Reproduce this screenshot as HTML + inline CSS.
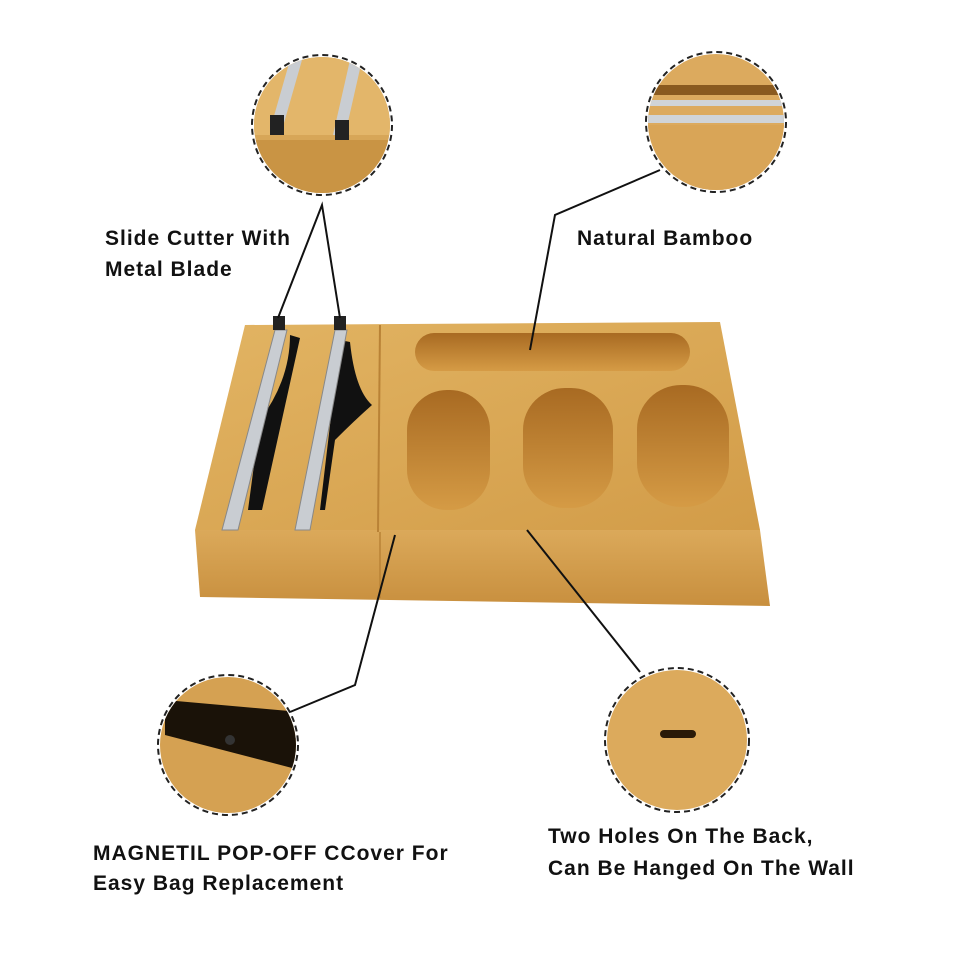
<!DOCTYPE html>
<html><head><meta charset="utf-8"><style>
html,body{margin:0;padding:0;background:#fff;}
svg{display:block}
text{font-family:"Liberation Sans",sans-serif;font-weight:bold;font-size:21px;letter-spacing:1px;fill:#111}
</style></head><body>
<svg width="960" height="960" viewBox="0 0 960 960" xmlns="http://www.w3.org/2000/svg">
<defs>
<linearGradient id="wood" x1="0" y1="0" x2="1" y2="1">
<stop offset="0" stop-color="#e2b463"/><stop offset="1" stop-color="#d29c48"/></linearGradient>
<linearGradient id="front" x1="0" y1="0" x2="0" y2="1">
<stop offset="0" stop-color="#dba95a"/><stop offset="1" stop-color="#c88f3e"/></linearGradient>
<linearGradient id="hole" x1="0" y1="0" x2="0" y2="1">
<stop offset="0" stop-color="#a86a22"/><stop offset="1" stop-color="#d59b45"/></linearGradient>
<clipPath id="c1"><circle cx="322" cy="125" r="68"/></clipPath>
<clipPath id="c2"><circle cx="716" cy="122" r="68"/></clipPath>
<clipPath id="c3"><circle cx="228" cy="745" r="68"/></clipPath>
<clipPath id="c4"><circle cx="677" cy="740" r="70"/></clipPath>
</defs>

<polygon points="195,530 760,530 770,606 200,597" fill="url(#front)"/>
<line x1="380" y1="532" x2="380" y2="598" stroke="#b98236" stroke-width="1.5"/>
<polygon points="245,325 720,322 760,530 195,530" fill="url(#wood)"/>
<line x1="380" y1="325" x2="378" y2="532" stroke="#b98236" stroke-width="2"/>
<rect x="415" y="333" width="275" height="38" rx="19" fill="url(#hole)"/>
<rect x="407" y="390" width="83" height="120" rx="40" fill="url(#hole)"/>
<rect x="523" y="388" width="90" height="120" rx="42" fill="url(#hole)"/>
<rect x="637" y="385" width="92" height="122" rx="44" fill="url(#hole)"/>
<path d="M290,335 L300,338 L262,510 L248,510 L260,420 Q290,380 290,335Z" fill="#111"/>
<path d="M340,340 L350,342 Q355,390 372,405 Q355,420 335,440 L325,510 L320,510Z" fill="#111"/>
<polygon points="275,330 287,330 238,530 222,530" fill="#c9cdd2" stroke="#888" stroke-width="1"/>
<polygon points="335,330 347,330 310,530 295,530" fill="#c9cdd2" stroke="#888" stroke-width="1"/>
<rect x="273" y="316" width="12" height="14" fill="#222"/>
<rect x="334" y="316" width="12" height="14" fill="#222"/>

<g clip-path="url(#c1)"><rect x="250" y="55" width="150" height="150" fill="#d7a658"/>
<rect x="250" y="55" width="150" height="80" fill="#e3b66a"/>
<polygon points="290,60 302,60 282,130 270,130" fill="#c9cdd2"/><polygon points="350,60 362,60 345,135 333,135" fill="#c9cdd2"/>
<rect x="270" y="115" width="14" height="20" fill="#222"/><rect x="335" y="120" width="14" height="20" fill="#222"/>
<rect x="250" y="140" width="150" height="70" fill="#c99444"/></g>
<circle cx="322" cy="125" r="70" fill="none" stroke="#222" stroke-width="2" stroke-dasharray="6,4"/>

<g clip-path="url(#c2)"><rect x="640" y="50" width="160" height="150" fill="#dcaa5e"/>
<rect x="640" y="85" width="160" height="10" fill="#8a5a1f"/>
<rect x="640" y="100" width="160" height="6" fill="#d0d4d8"/>
<rect x="640" y="115" width="160" height="8" fill="#d0d4d8"/>
<rect x="640" y="125" width="160" height="75" fill="#d9a557"/></g>
<circle cx="716" cy="122" r="70" fill="none" stroke="#222" stroke-width="2" stroke-dasharray="6,4"/>

<g clip-path="url(#c3)"><rect x="150" y="670" width="160" height="150" fill="#d5a152"/>
<polygon points="165,700 300,712 300,770 165,735" fill="#1a1208"/>
<circle cx="230" cy="740" r="5" fill="#333"/></g>
<circle cx="228" cy="745" r="70" fill="none" stroke="#222" stroke-width="2" stroke-dasharray="6,4"/>

<g clip-path="url(#c4)"><rect x="600" y="665" width="160" height="150" fill="#dcaa5c"/>
<rect x="660" y="730" width="36" height="8" rx="4" fill="#2a1a08"/></g>
<circle cx="677" cy="740" r="72" fill="none" stroke="#222" stroke-width="2" stroke-dasharray="6,4"/>

<g stroke="#111" stroke-width="2" fill="none">
<polyline points="278,318 322,205 340,318"/>
<polyline points="660,170 555,215 530,350"/>
<polyline points="395,535 355,685 290,712"/>
<polyline points="527,530 640,672"/>
</g>

<text x="105" y="245">Slide Cutter With</text>
<text x="105" y="276">Metal Blade</text>
<text x="577" y="245">Natural Bamboo</text>
<text x="93" y="860">MAGNETIL POP-OFF CCover For</text>
<text x="93" y="890">Easy Bag Replacement</text>
<text x="548" y="843">Two Holes On The Back,</text>
<text x="548" y="875">Can Be Hanged On The Wall</text>
</svg>
</body></html>
